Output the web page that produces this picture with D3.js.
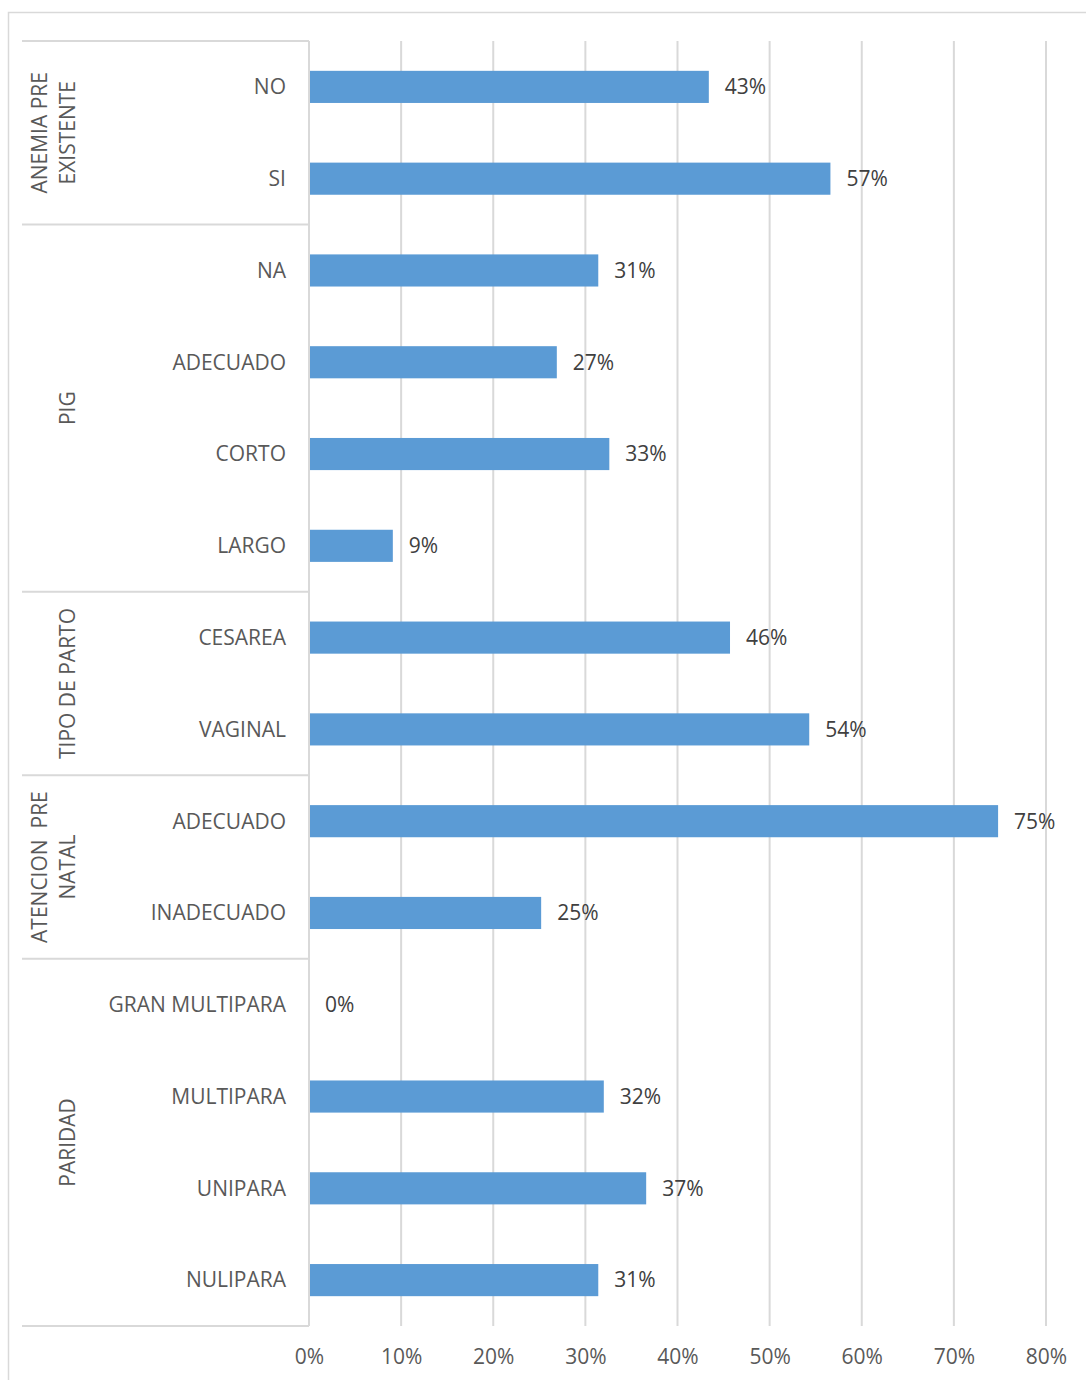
<!DOCTYPE html>
<html>
<head>
<meta charset="utf-8">
<script src="https://cdn.jsdelivr.net/npm/d3@7"></script>
<style>
  html, body { margin: 0; padding: 0; background: #fff; }
  svg { display: block; }
  text { font-family: "Open Sans", "Noto Sans", sans-serif; fill: #595959; }
</style>
</head>
<body>
<svg id="chart" width="1086" height="1380"></svg>
<script>
// Category labels, top to bottom
const categories = [
  "NO", "SI",
  "NA", "ADECUADO", "CORTO", "LARGO",
  "CESAREA", "VAGINAL",
  "ADECUADO", "INADECUADO",
  "GRAN MULTIPARA", "MULTIPARA", "UNIPARA", "NULIPARA"
];
// Group index of each category
const groupOf = [0, 0, 1, 1, 1, 1, 2, 2, 3, 3, 4, 4, 4, 4];
// Group labels (one entry per wrapped line)
const groupLabels = [
  ["ANEMIA PRE", "EXISTENTE"],
  ["PIG"],
  ["TIPO DE PARTO"],
  ["ATENCION  PRE", "NATAL"],
  ["PARIDAD"]
];
// Share of cases per category
const values = [
  0.434, 0.566,
  0.314, 0.269, 0.326, 0.091,
  0.457, 0.543,
  0.748, 0.252,
  0.0, 0.320, 0.366, 0.314
];
const tickValues = [0, 0.1, 0.2, 0.3, 0.4, 0.5, 0.6, 0.7, 0.8];

const svg = d3.select("#chart");
const plotLeft = 309, plotRight = 1046, plotTop = 41, plotBottom = 1326, outerLeft = 22;
const grid = "#D9D9D9";
const fontSize = 21;
const pct = d3.format(".0%");

// outer frame
svg.append("rect")
  .attr("x", 8.5).attr("y", 12.5).attr("width", 1100).attr("height", 1400)
  .attr("fill", "none").attr("stroke", grid).attr("stroke-width", 1.5);

const x = d3.scaleLinear().domain([0, 0.8]).range([plotLeft, plotRight]);
const rows = d3.range(categories.length);
const y = d3.scaleBand().domain(rows).range([plotTop, plotBottom])
  .paddingInner(0.65).paddingOuter(0.325);
const step = y.step();

// vertical gridlines
svg.append("g").selectAll("line").data(tickValues.slice(1)).join("line")
  .attr("x1", d => x(d)).attr("x2", d => x(d))
  .attr("y1", plotTop).attr("y2", plotBottom)
  .attr("stroke", grid).attr("stroke-width", 2);

// x axis tick labels
const xAxis = d3.axisBottom(x).tickValues(tickValues).tickFormat(pct).tickSize(0).tickPadding(0);
const gx = svg.append("g").attr("transform", `translate(0,${plotBottom + 31})`).call(xAxis);
gx.select(".domain").remove();
gx.selectAll("text").attr("font-size", fontSize).attr("dy", "0.35em")
  .style("font-family", '"Open Sans", sans-serif').attr("fill", "#595959");

// group boundaries
const groupIdx = d3.range(groupLabels.length);
const groupStart = groupIdx.map(g => groupOf.indexOf(g));
const groupEnd = groupIdx.map(g => groupOf.lastIndexOf(g) + 1);
const boundaries = [0, ...groupEnd];
svg.append("g").selectAll("line").data(boundaries).join("line")
  .attr("x1", outerLeft).attr("x2", plotLeft)
  .attr("y1", d => plotTop + d * step).attr("y2", d => plotTop + d * step)
  .attr("stroke", grid).attr("stroke-width", 2);

// category axis line
svg.append("line")
  .attr("x1", plotLeft).attr("x2", plotLeft).attr("y1", plotTop).attr("y2", plotBottom)
  .attr("stroke", grid).attr("stroke-width", 2);

// bars
svg.append("g").selectAll("rect").data(rows).join("rect")
  .attr("x", x(0) + 1)
  .attr("y", i => y(i))
  .attr("width", i => Math.max(0, x(values[i]) - x(0) - 1))
  .attr("height", y.bandwidth())
  .attr("fill", "#5B9BD5");

// value labels
svg.append("g").selectAll("text").data(rows).join("text")
  .attr("x", i => x(values[i]) + 16)
  .attr("y", i => y(i) + y.bandwidth() / 2)
  .attr("dy", "0.35em")
  .attr("font-size", fontSize)
  .style("fill", "#404040")
  .text(i => pct(values[i]));

// category labels
svg.append("g").selectAll("text").data(rows).join("text")
  .attr("x", 286)
  .attr("y", i => y(i) + y.bandwidth() / 2)
  .attr("dy", "0.35em")
  .attr("text-anchor", "end")
  .attr("font-size", fontSize)
  .text(i => categories[i]);

// rotated group labels
groupIdx.forEach(g => {
  const cy = plotTop + (groupStart[g] + groupEnd[g]) / 2 * step;
  const lines = groupLabels[g];
  const xs = lines.length === 1 ? [68] : [40, 68];
  lines.forEach((t, k) => {
    svg.append("text")
      .attr("transform", `translate(${xs[k]},${cy}) rotate(-90)`)
      .attr("text-anchor", "middle")
      .attr("dy", "0.35em")
      .attr("font-size", fontSize)
      .style("white-space", "pre")
      .text(t);
  });
});
</script>
</body>
</html>
